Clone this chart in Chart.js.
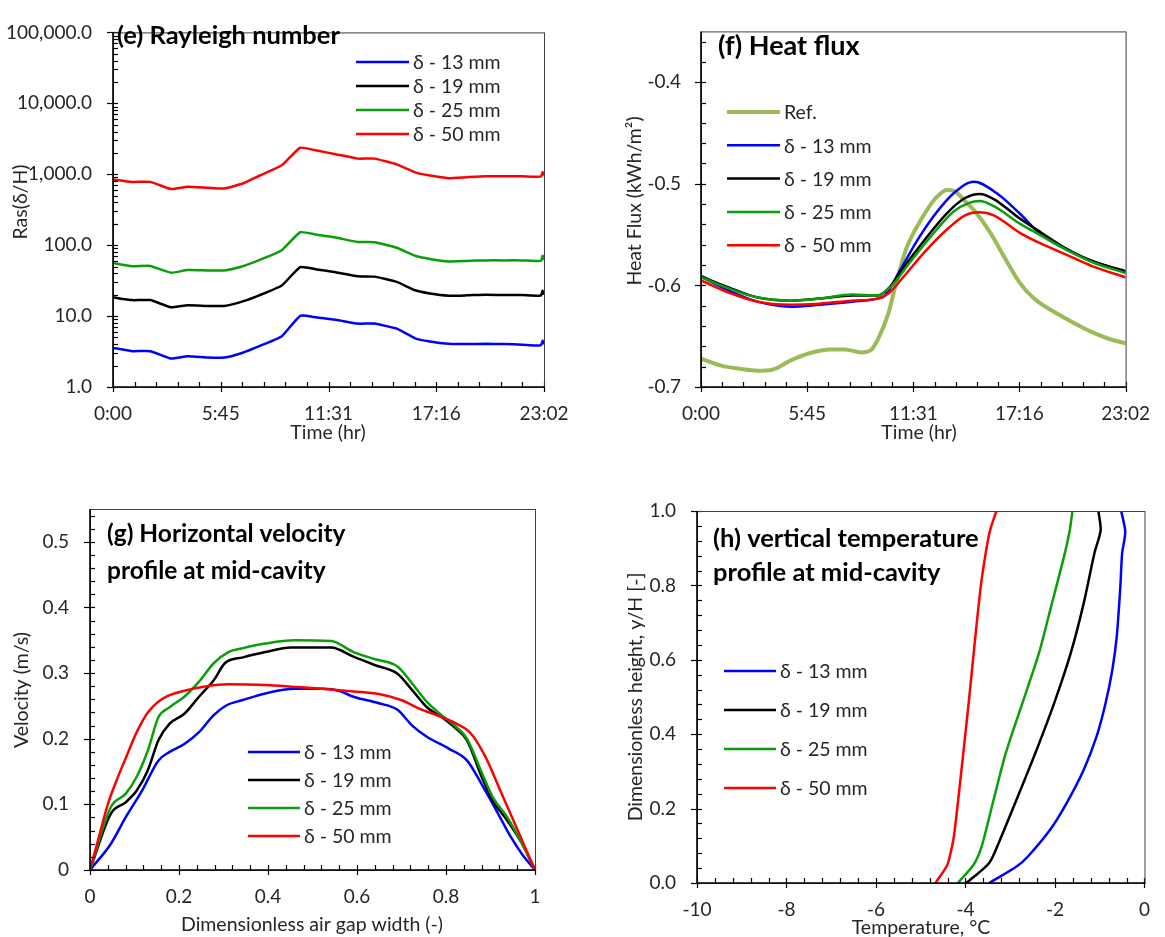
<!DOCTYPE html>
<html lang="en">
<head>
<meta charset="UTF-8">
<title>Air gap cavity results</title>
<script src="https://cdn.jsdelivr.net/npm/chart.js"></script>
<style>
  body { margin: 0; background: #fff; }
  #wrap { position: relative; width: 1165px; height: 937px; }
  #wrap canvas { position: absolute; left: 0; top: 0; }
</style>
</head>
<body>
<div id="wrap">
  <canvas id="chartE" width="1165" height="937"></canvas>
  <canvas id="chartF" width="1165" height="937"></canvas>
  <canvas id="chartG" width="1165" height="937"></canvas>
  <canvas id="chartH" width="1165" height="937"></canvas>
</div>
<script>
// ---- shared ----
const seriesNames = ['δ - 13 mm', 'δ - 19 mm', 'δ - 25 mm', 'δ - 50 mm'];
const seriesColors = ['#0000ff', '#000000', '#0a9f0a', '#ff0000'];

// ---- (e) Rayleigh number, time in days ----
const raTime = [0, 0.042, 0.083, 0.129, 0.166, 0.211, 0.248, 0.289, 0.327, 0.376, 0.417, 0.454, 0.496, 0.545, 0.582, 0.632, 0.673, 0.706, 0.747, 0.788, 0.830, 0.871, 0.912, 0.953, 0.957, 0.96];
const ra13 = [3.56, 3.2, 3.2, 2.52, 2.71, 2.6, 2.6, 3.04, 3.79, 5.2, 10.1, 9.55, 8.88, 7.84, 7.84, 6.64, 4.86, 4.38, 4.07, 4.03, 4.07, 4.03, 3.95, 3.87, 4.5, 4.0];
const ra19 = [18.4, 16.8, 16.8, 13.3, 14.2, 13.9, 13.9, 16.1, 19.8, 27, 49, 45.5, 41.4, 36.5, 36, 30.3, 23.1, 20.8, 19.4, 19.6, 20, 19.8, 19.8, 19.5, 23, 20];
const ra25 = [56, 50.5, 51, 41, 44.5, 44, 44, 50.5, 62, 85, 152, 140, 128, 111, 110, 92, 71, 64, 59, 60, 61, 61, 61, 60, 71, 62];
const ra50 = [845, 780, 780, 620, 665, 645, 630, 740, 960, 1335, 2365, 2155, 1920, 1660, 1660, 1378, 1062, 957, 880, 908, 935, 935, 935, 925, 1070, 960];
const raTickLabels = ['1.0', '10.0', '100.0', '1,000.0', '10,000.0', '100,000.0'];
const timeTickLabels = ['0:00', '5:45', '11:31', '17:16', '23:02'];

// ---- (f) Heat flux ----
const refTime = [0, 0.046, 0.087, 0.128, 0.161, 0.202, 0.243, 0.293, 0.325, 0.362, 0.383, 0.399, 0.424, 0.441, 0.465, 0.498, 0.531, 0.556, 0.572, 0.597, 0.621, 0.654, 0.687, 0.720, 0.753, 0.802, 0.843, 0.884, 0.925, 0.96];
const refFlux = [-0.672, -0.679, -0.682, -0.684, -0.683, -0.674, -0.667, -0.663, -0.663, -0.666, -0.664, -0.654, -0.627, -0.598, -0.563, -0.535, -0.514, -0.506, -0.507, -0.517, -0.528, -0.548, -0.573, -0.597, -0.613, -0.627, -0.637, -0.646, -0.653, -0.657];
const flux13Time = [0, 0.0625, 0.128, 0.202, 0.268, 0.342, 0.399, 0.416, 0.449, 0.49, 0.531, 0.572, 0.617, 0.671, 0.720, 0.769, 0.827, 0.884, 0.96];
const flux13 = [-0.5915, -0.605, -0.616, -0.621, -0.619, -0.616, -0.613, -0.610, -0.586, -0.555, -0.529, -0.509, -0.498, -0.510, -0.529, -0.550, -0.565, -0.576, -0.587];
const fluxTime = [0, 0.0625, 0.128, 0.202, 0.268, 0.342, 0.399, 0.424, 0.457, 0.506, 0.556, 0.597, 0.630, 0.662, 0.720, 0.769, 0.827, 0.884, 0.96];
const flux19 = [-0.591, -0.602, -0.612, -0.615, -0.613, -0.610, -0.610, -0.603, -0.583, -0.555, -0.529, -0.514, -0.510, -0.515, -0.534, -0.548, -0.564, -0.576, -0.586];
const flux25Time = [0, 0.0625, 0.128, 0.202, 0.268, 0.342, 0.399, 0.432, 0.473, 0.523, 0.572, 0.605, 0.630, 0.662, 0.720, 0.769, 0.827, 0.884, 0.96];
const flux25 = [-0.592, -0.603, -0.612, -0.615, -0.613, -0.609, -0.610, -0.600, -0.577, -0.550, -0.527, -0.519, -0.517, -0.522, -0.539, -0.551, -0.565, -0.577, -0.588];
const flux50 = [-0.595, -0.607, -0.616, -0.619, -0.618, -0.615, -0.613, -0.608, -0.592, -0.567, -0.545, -0.531, -0.528, -0.531, -0.548, -0.559, -0.570, -0.581, -0.592];
const fluxTickLabels = ['-0.7', '-0.6', '-0.5', '-0.4'];

// ---- (g) Horizontal velocity profile ----
const vel13X = [0, 0.047, 0.08, 0.117, 0.154, 0.179, 0.212, 0.245, 0.278, 0.307, 0.344, 0.394, 0.46, 0.526, 0.559, 0.592, 0.649, 0.691, 0.724, 0.757, 0.806, 0.847, 0.88, 0.913, 0.946, 0.971, 1];
const vel13 = [0, 0.04, 0.08, 0.121, 0.167, 0.18, 0.192, 0.21, 0.236, 0.251, 0.259, 0.269, 0.276, 0.276, 0.273, 0.264, 0.254, 0.244, 0.22, 0.203, 0.185, 0.167, 0.131, 0.091, 0.05, 0.024, 0];
const vel19X = [0, 0.047, 0.08, 0.105, 0.13, 0.154, 0.179, 0.212, 0.245, 0.278, 0.303, 0.344, 0.394, 0.451, 0.542, 0.592, 0.641, 0.691, 0.724, 0.757, 0.79, 0.823, 0.847, 0.88, 0.905, 0.938, 0.971, 1];
const vel19 = [0, 0.086, 0.103, 0.121, 0.152, 0.198, 0.223, 0.238, 0.264, 0.289, 0.315, 0.324, 0.332, 0.339, 0.339, 0.325, 0.312, 0.299, 0.274, 0.248, 0.233, 0.215, 0.198, 0.142, 0.106, 0.075, 0.04, 0];
const vel25X = [0, 0.047, 0.08, 0.105, 0.13, 0.154, 0.179, 0.212, 0.245, 0.278, 0.311, 0.344, 0.394, 0.46, 0.542, 0.592, 0.641, 0.691, 0.724, 0.757, 0.79, 0.823, 0.847, 0.88, 0.905, 0.938, 0.971, 1];
const vel25 = [0, 0.096, 0.116, 0.142, 0.182, 0.233, 0.248, 0.264, 0.287, 0.315, 0.332, 0.338, 0.345, 0.35, 0.349, 0.332, 0.321, 0.31, 0.284, 0.256, 0.236, 0.218, 0.2, 0.149, 0.111, 0.08, 0.04, 0];
const vel50X = [0, 0.02, 0.04, 0.06, 0.08, 0.105, 0.13, 0.163, 0.212, 0.262, 0.311, 0.394, 0.46, 0.542, 0.592, 0.649, 0.699, 0.74, 0.79, 0.823, 0.856, 0.889, 0.922, 0.955, 1];
const vel50 = [0, 0.05, 0.1, 0.137, 0.17, 0.21, 0.24, 0.261, 0.273, 0.28, 0.283, 0.282, 0.279, 0.275, 0.272, 0.268, 0.259, 0.246, 0.233, 0.223, 0.208, 0.172, 0.121, 0.07, 0];
const gapTickLabels = ['0', '0.2', '0.4', '0.6', '0.8', '1'];
const velTickLabels = ['0', '0.1', '0.2', '0.3', '0.4', '0.5'];

// ---- (h) Vertical temperature profile ----
const temp13 = [-3.47, -2.85, -2.60, -2.11, -1.74, -1.36, -1.07, -0.87, -0.72, -0.62, -0.54, -0.50, -0.43, -0.52];
const temp13Y = [0, 0.045, 0.072, 0.143, 0.215, 0.304, 0.394, 0.483, 0.572, 0.662, 0.796, 0.886, 0.944, 1.0];
const temp19 = [-3.98, -3.47, -3.26, -2.89, -2.44, -2.02, -1.65, -1.36, -1.12, -0.98, -1.03];
const temp19Y = [0, 0.054, 0.107, 0.215, 0.349, 0.483, 0.617, 0.751, 0.886, 0.948, 1.0];
const temp25 = [-4.17, -3.82, -3.64, -3.39, -3.10, -2.73, -2.36, -2.07, -1.78, -1.67, -1.61];
const temp25Y = [0, 0.049, 0.098, 0.215, 0.349, 0.483, 0.617, 0.751, 0.886, 0.948, 1.0];
const temp50 = [-4.67, -4.42, -4.36, -4.26, -4.09, -3.93, -3.78, -3.66, -3.55, -3.45, -3.31];
const temp50Y = [0, 0.045, 0.067, 0.125, 0.304, 0.483, 0.662, 0.796, 0.886, 0.948, 1.0];
const tempTickLabels = ['-10', '-8', '-6', '-4', '-2', '0'];
const heightTickLabels = ['0.0', '0.2', '0.4', '0.6', '0.8', '1.0'];

// ---- helpers ----
const FONT = 'Lato, "Open Sans", sans-serif';
Chart.defaults.font.family = FONT;
Chart.defaults.font.size = 19;
Chart.defaults.color = '#262626';

function pts(xs, ys) {
  return xs.map((x, i) => ({ x: x, y: ys[i] }));
}

// later series sit on top, like the spreadsheet chart
function line(label, color, data, width, tension, idx) {
  return {
    label: label, data: data, borderColor: color, backgroundColor: color,
    borderWidth: width || 2.5, pointRadius: 0,
    tension: tension === 'mono' ? 0.4 : tension,
    cubicInterpolationMode: tension === 'mono' ? 'monotone' : 'default',
    order: 10 - idx
  };
}

// linear axis with minor/major steps
function linAxis(min, max, minor, major, labels, size, pad) {
  return {
    type: 'linear', min: min, max: max,
    grid: { display: false, drawTicks: false }, border: { display: false },
    afterBuildTicks: s => {
      const n = Math.floor((max - min) / minor + 1e-9);
      s.ticks = [];
      for (let i = 0; i <= n; i++) s.ticks.push({ value: +(min + i * minor).toFixed(6) });
    },
    ticks: {
      autoSkip: false, maxRotation: 0, padding: pad,
      callback: v => {
        const k = (v - min) / major;
        return Math.abs(k - Math.round(k)) < 1e-6 ? labels[Math.round(k)] : '';
      }
    },
    afterFit: s => { if (s.isHorizontal()) s.height = size; else s.width = size; }
  };
}

function logAxis(labels, size) {
  return {
    type: 'logarithmic', min: 1, max: 100000,
    grid: { display: false, drawTicks: false }, border: { display: false },
    afterBuildTicks: s => {
      s.ticks = [];
      for (let e = 0; e < 5; e++)
        for (let m = 1; m < 10; m++) s.ticks.push({ value: m * Math.pow(10, e) });
      s.ticks.push({ value: 100000 });
    },
    ticks: {
      autoSkip: false, padding: 21,
      callback: v => {
        const e = Math.log10(v);
        return Math.abs(e - Math.round(e)) < 1e-9 ? labels[Math.round(e)] : '';
      }
    },
    afterFit: s => { s.width = size; }
  };
}

// frame, tick marks, panel title, axis titles and legend
const framePlugin = {
  id: 'frame',
  afterDraw(chart, args, o) {
    const ctx = chart.ctx, a = chart.chartArea;
    const xs = chart.scales.x, ys = chart.scales.y;
    ctx.save();
    ctx.strokeStyle = '#000';
    ctx.lineWidth = 1.2;
    xs.ticks.forEach(t => {
      const p = Math.round(xs.getPixelForValue(t.value)) + 0.5;
      const major = t.label !== '';
      ctx.beginPath();
      ctx.moveTo(p, a.bottom - 5);
      ctx.lineTo(p, a.bottom + (major ? 5 : 0));
      ctx.stroke();
    });
    ys.ticks.forEach(t => {
      const p = Math.round(ys.getPixelForValue(t.value)) + 0.5;
      const major = t.label !== '';
      ctx.beginPath();
      ctx.moveTo(a.left - (major ? 6 : 0), p);
      ctx.lineTo(a.left + 5, p);
      ctx.stroke();
    });
    // frame
    ctx.strokeStyle = '#404040';
    ctx.lineWidth = 1;
    ctx.strokeRect(a.left + 0.5, a.top + 0.5, a.right - a.left, a.bottom - a.top);
    ctx.strokeStyle = '#000';
    ctx.lineWidth = 1.6;
    ctx.beginPath();
    ctx.moveTo(a.left, a.top);
    ctx.lineTo(a.left, a.bottom);
    ctx.lineTo(a.right + 1, a.bottom);
    ctx.stroke();

    // panel title
    ctx.fillStyle = '#000';
    ctx.font = 'bold ' + o.title.size + 'px ' + FONT;
    ctx.textAlign = 'left';
    ctx.textBaseline = 'middle';
    o.title.lines.forEach((s, i) => ctx.fillText(s, o.title.x, o.title.y + i * o.title.dy));

    // axis titles
    ctx.fillStyle = '#262626';
    ctx.font = '19.5px ' + FONT;
    ctx.textAlign = 'center';
    ctx.fillText(o.xTitle.text, o.xTitle.x, o.xTitle.y);
    ctx.save();
    ctx.translate(o.yTitle.x, o.yTitle.y);
    ctx.rotate(-Math.PI / 2);
    ctx.fillText(o.yTitle.text, 0, 0);
    ctx.restore();

    // legend
    const L = o.legend;
    ctx.font = '19.5px ' + FONT;
    ctx.textAlign = 'left';
    chart.data.datasets.forEach((d, i) => {
      const y = L.y + i * L.dy;
      ctx.strokeStyle = d.borderColor;
      ctx.lineWidth = d.borderWidth;
      ctx.beginPath();
      ctx.moveTo(L.x1, y);
      ctx.lineTo(L.x2, y);
      ctx.stroke();
      ctx.fillStyle = '#262626';
      ctx.fillText(d.label, L.x2 + 4, y + 1);
    });
    ctx.restore();
  }
};

function makeChart(id, box, datasets, scales, frame) {
  return new Chart(document.getElementById(id), {
    type: 'line',
    data: { datasets: datasets },
    options: {
      responsive: false,
      animation: false,
      events: [],
      layout: { padding: { left: 0, right: 1165 - box.R, top: box.T, bottom: 937 - box.B - 60 } },
      scales: scales,
      plugins: { legend: { display: false }, tooltip: { enabled: false }, frame: frame }
    },
    plugins: [framePlugin]
  });
}

// (e)
const boxE = { L: 113, R: 544, T: 17, B: 387 };
makeChart('chartE', boxE, [
  line(seriesNames[0], seriesColors[0], pts(raTime, ra13), 2.5, 0.15, 0),
  line(seriesNames[1], seriesColors[1], pts(raTime, ra19), 2.5, 0.15, 1),
  line(seriesNames[2], seriesColors[2], pts(raTime, ra25), 2.5, 0.15, 2),
  line(seriesNames[3], seriesColors[3], pts(raTime, ra50), 2.5, 0.15, 3)
], {
  x: linAxis(0, 0.96, 0.048, 0.24, timeTickLabels, 60, 15),
  y: logAxis(raTickLabels, boxE.L)
}, {
  title: { lines: ['(e) Rayleigh number'], x: 117, y: 36, dy: 0, size: 25.5 },
  xTitle: { text: 'Time (hr)', x: 328, y: 433 },
  yTitle: { text: 'Ras(δ/H)', x: 21, y: 202 },
  legend: { x1: 356, x2: 409, y: 62, dy: 24 }
});

// (f)
const boxF = { L: 701, R: 1137, T: 16, B: 387 };
makeChart('chartF', boxF, [
  line('Ref.', '#9bbb59', pts(refTime, refFlux), 4, 'mono', 0),
  line(seriesNames[0], seriesColors[0], pts(flux13Time, flux13), 2.5, 'mono', 1),
  line(seriesNames[1], seriesColors[1], pts(fluxTime, flux19), 2.5, 'mono', 2),
  line(seriesNames[2], seriesColors[2], pts(flux25Time, flux25), 2.5, 'mono', 3),
  line(seriesNames[3], seriesColors[3], pts(fluxTime, flux50), 2.5, 'mono', 4)
], {
  x: linAxis(0, 0.96, 0.048, 0.24, timeTickLabels, 60, 15),
  y: linAxis(-0.7, -0.35, 0.02, 0.1, fluxTickLabels, boxF.L, 20)
}, {
  title: { lines: ['(f) Heat flux'], x: 718, y: 46, dy: 0, size: 27 },
  xTitle: { text: 'Time (hr)', x: 919, y: 433 },
  yTitle: { text: 'Heat Flux (kWh/m²)', x: 635, y: 201 },
  legend: { x1: 727, x2: 780, y: 112, dy: 33.3 }
});

// (g)
const boxG = { L: 90, R: 535, T: 509, B: 870 };
makeChart('chartG', boxG, [
  line(seriesNames[0], seriesColors[0], pts(vel13X, vel13), 2.5, 'mono', 0),
  line(seriesNames[1], seriesColors[1], pts(vel19X, vel19), 2.5, 'mono', 1),
  line(seriesNames[2], seriesColors[2], pts(vel25X, vel25), 2.5, 'mono', 2),
  line(seriesNames[3], seriesColors[3], pts(vel50X, vel50), 2.5, 'mono', 3)
], {
  x: linAxis(0, 1, 0.04, 0.2, gapTickLabels, 60, 15),
  y: linAxis(0, 0.55, 0.02, 0.1, velTickLabels, boxG.L, 21)
}, {
  title: { lines: ['(g) Horizontal velocity', 'profile at mid-cavity'], x: 107, y: 534, dy: 37, size: 24.5 },
  xTitle: { text: 'Dimensionless air gap width (-)', x: 312, y: 925 },
  yTitle: { text: 'Velocity (m/s)', x: 22, y: 690 },
  legend: { x1: 248, x2: 300, y: 752, dy: 28 }
});

// (h)
const boxH = { L: 697, R: 1149, T: 511, B: 883 };
makeChart('chartH', boxH, [
  line(seriesNames[0], seriesColors[0], pts(temp13, temp13Y), 2.5, 0.25, 0),
  line(seriesNames[1], seriesColors[1], pts(temp19, temp19Y), 2.5, 0.25, 1),
  line(seriesNames[2], seriesColors[2], pts(temp25, temp25Y), 2.5, 0.25, 2),
  line(seriesNames[3], seriesColors[3], pts(temp50, temp50Y), 2.5, 0.25, 3)
], {
  x: linAxis(-10, 0, 0.4, 2, tempTickLabels, 60, 15),
  y: linAxis(0, 1, 0.04, 0.2, heightTickLabels, boxH.L, 21)
}, {
  title: { lines: ['(h) vertical temperature', 'profile at mid-cavity'], x: 713, y: 539, dy: 34, size: 25.5 },
  xTitle: { text: 'Temperature, °C', x: 921, y: 928 },
  yTitle: { text: 'Dimensionless height, y/H [-]', x: 636, y: 697 },
  legend: { x1: 724, x2: 776, y: 671, dy: 39 }
});
</script>
</body>
</html>
